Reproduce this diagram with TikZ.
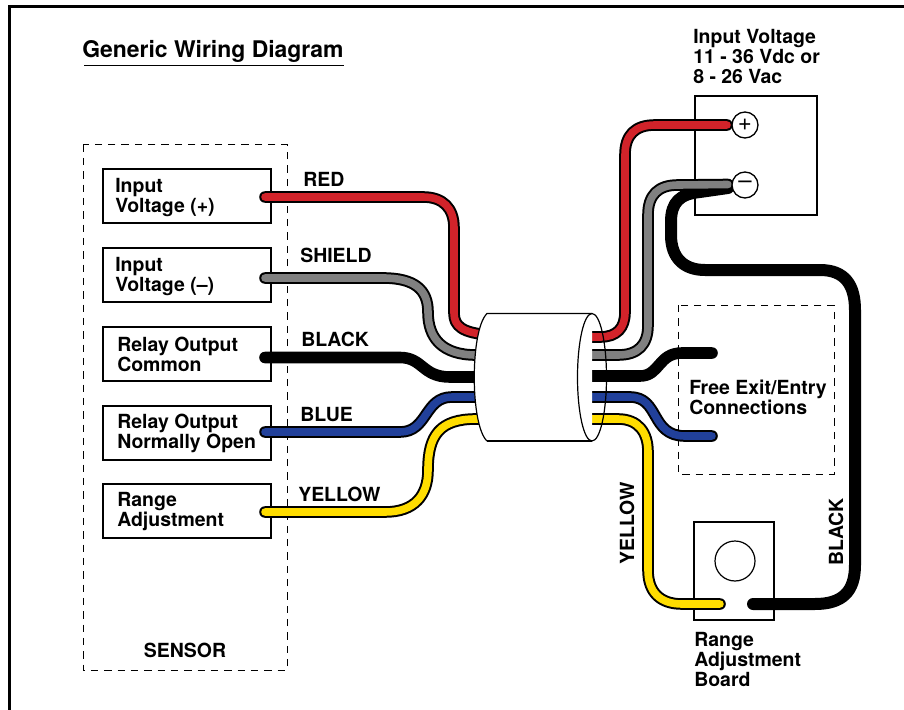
\documentclass[tikz,border=0pt]{standalone}
\usepackage{fontspec}
\setmainfont{TeX Gyre Heros}
\definecolor{wred}{HTML}{D2232A}
\definecolor{wgray}{HTML}{808080}
\definecolor{wblack}{HTML}{000000}
\definecolor{wblue}{HTML}{21409A}
\definecolor{wyellow}{HTML}{FFDD00}
\newcommand{\wire}[2]{%
  \draw[line width=8.7pt,black,line cap=round,line join=round] #2;
  \draw[line width=5.7pt,#1,line cap=round,line join=round] #2;}
\begin{document}
\begin{tikzpicture}[x=0.75pt,y=-0.75pt,
  lbl/.style={font=\fontsize{14.6}{15}\selectfont\bfseries,inner sep=0pt,align=left},
  ttl/.style={font=\fontsize{17.2}{19}\selectfont\bfseries,inner sep=0pt,anchor=base west},
  sbox/.style={draw,line width=1.5pt,minimum width=126pt,minimum height=40.5pt,inner sep=0pt},
  thin box/.style={draw,line width=0.9pt,inner sep=0pt},
  dash box/.style={draw,line width=0.75pt,dash pattern=on 5.5pt off 4.5pt,inner sep=0pt},
  term/.style={circle,draw,line width=1pt,fill=white,minimum size=19.5pt,inner sep=0pt,font=\fontsize{18}{18}\selectfont}]
\useasboundingbox (0,0) rectangle (904,710);
\fill[white] (0,0) rectangle (904,710);
% frame
\draw[line width=2pt] (9.5,710) -- (9.5,6.5) -- (904,6.5);
% title
\node[ttl] (title) at (82,58) {Generic Wiring Diagram};
\draw[line width=1.2pt] (84,65.5) -- (344,65.5);
% sensor
\draw[dash box] (83,144.5) rectangle (287,670);
\node[lbl] (sensor) at (185,650) {SENSOR};
% sensor boxes
\node[sbox] (b1) at (187,196) {};
\node[sbox] (b2) at (187,275) {};
\node[sbox] (b3) at (187,354) {};
\node[sbox] (b4) at (187,433) {};
\node[sbox] (b5) at (187,511) {};
\node[lbl,anchor=west] (t1) at (115,198) {Input\\Voltage (+)};
\node[lbl,anchor=west] (t2) at (115,277) {Input\\Voltage (--)};
\node[lbl,anchor=west] (t3) at (117,354) {Relay Output\\Common};
\node[lbl,anchor=west] (t4) at (117,433.5) {Relay Output\\Normally Open};
\node[lbl,anchor=west] (t5) at (117,512) {Range\\Adjustment};
% wire names
\node[lbl,anchor=base west] at (303,186) {RED};
\node[lbl,anchor=base west] at (300,262) {SHIELD};
\node[lbl,anchor=base west] at (301,346) {BLACK};
\node[lbl,anchor=base west] at (300,421) {BLUE};
\node[lbl,anchor=base west] at (298,501) {YELLOW};
\node[lbl,rotate=90,anchor=base west] at (634,565) {YELLOW};
\node[lbl,rotate=90,anchor=base west] at (843,566) {BLACK};
% power box
\node[thin box,minimum width=91.5pt,minimum height=89.25pt] (pwr) at (756,155.5) {};
\node[lbl,anchor=north west] (inv) at (693,29) {Input Voltage\\11 - 36 Vdc or\\8 - 26 Vac};
% free exit
\draw[dash box] (678,305) rectangle (834,474);
\node[lbl,anchor=west] (free) at (689,397) {Free Exit/Entry\\Connections};
% range board
\node[thin box,minimum width=60pt,minimum height=73.5pt] (brd) at (734,571) {};
\node[circle,draw,line width=0.9pt,minimum size=30pt,inner sep=0pt] (pot) at (735,561) {};
\node[lbl,anchor=north west] (rng) at (694,632) {Range\\Adjustment\\Board};
% cylinder
\coordinate (clt) at (487,313.5);
\coordinate (clb) at (487,441);
\coordinate (crt) at (592,313.5);
\coordinate (crb) at (592,441);
\coordinate (cc) at (592,377.25);
% terminal coordinates
\coordinate (lr) at (265,197);
\coordinate (lg) at (265,278);
\coordinate (lk) at (265,357.5);
\coordinate (lb) at (265,432);
\coordinate (ly) at (265,512);
% wires
\wire{wred}{(lr) -- (423,197) .. controls (443,197) and (454,208) .. (454,228) -- (454,313) .. controls (454,326) and (462,333) .. (490,335)}
\wire{wgray}{(lg) -- (383,278) .. controls (415,278) and (428,290) .. (428,312) .. controls (428,338) and (442,355) .. (476,355) -- (490,355)}
\wire{wblack}{(lk) -- (400,357.5) .. controls (423,357.5) and (422,377) .. (450,377) -- (490,377)}
\wire{wblue}{(lb) -- (400,432) .. controls (428,432) and (424,397) .. (452,397) -- (490,397)}
\wire{wyellow}{(ly) -- (385,512) .. controls (415,512) and (428,495) .. (428,470) .. controls (428,435) and (440,419) .. (476,419) -- (490,419)}
% black return beneath gray
\draw[line width=9pt,black,line cap=round,line join=round] (728,188) -- (700,192) .. controls (680,194) and (671,202) .. (671,222) -- (671,235) .. controls (671,258) and (684,270) .. (705,270) -- (820,270) .. controls (845,270) and (855,285) .. (855,310) -- (855,565) .. controls (855,592) and (842,604) .. (815,604) -- (753,604);
\wire{wred}{(590,337) -- (600,337) .. controls (617,337) and (625,328) .. (625,312) -- (625,155) .. controls (625,135) and (635,125) .. (655,125) -- (727,125)}
\wire{wgray}{(590,355) -- (618,355) .. controls (638,355) and (648,345) .. (648,325) -- (648,215) .. controls (648,195) and (658,185) .. (678,185) -- (728,184.5)}
\wire{wblack}{(590,376) -- (640,376) .. controls (660,376) and (658,353) .. (682,353) -- (712,353)}
\wire{wblue}{(590,397) -- (630,397) .. controls (660,397) and (650,436) .. (685,436) -- (712,436)}
\wire{wyellow}{(590,419) -- (618,419) .. controls (638,419) and (648,432) .. (648,452) -- (648,570) .. controls (648,592) and (660,604) .. (682,604) -- (720,604)}
% cylinder body over wire ends
\fill[white] (clt) -- (crt) -- (crb) -- (clb) .. controls (470,425) and (470,330) .. (clt);
\draw[line width=0.9pt] (clb) .. controls (470,425) and (470,330) .. (clt) -- (crt);
\draw[line width=0.9pt] (clb) -- (crb);
\draw[line width=0.9pt] (cc) ellipse (14.5 and 63.75);
% terminals
\node[term] (tp) at (745,125) {+};
\node[term] (tm) at (745,185) {--};
\end{tikzpicture}
\end{document}
